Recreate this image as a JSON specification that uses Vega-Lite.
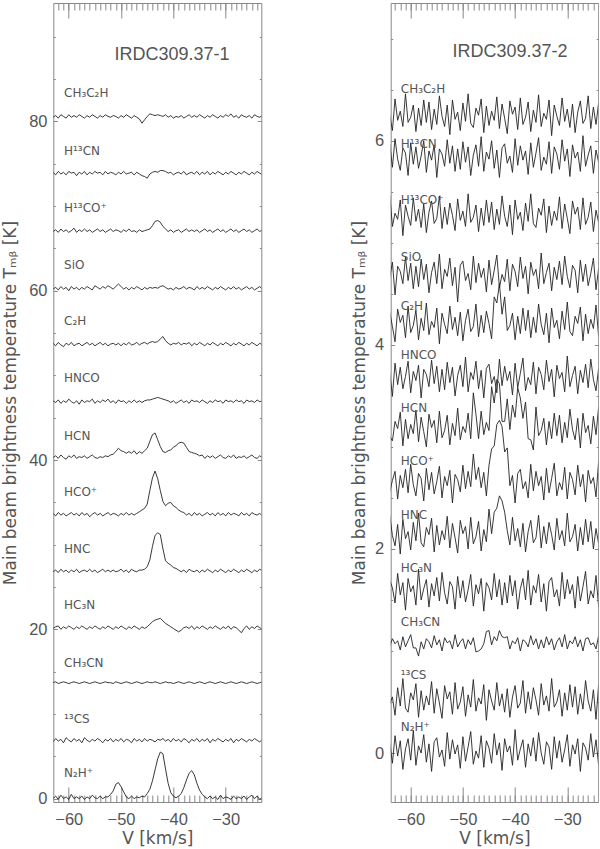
{
"$schema": "https://vega.github.io/schema/vega-lite/v6.json",
"padding": {"left": 1.3, "top": 2, "right": 0, "bottom": 0},
"background": "white",
"spacing": 86.4,
"config": {
  "view": {"stroke": "#888", "strokeWidth": 1},
  "axis": {"domain": false, "grid": false, "tickColor": "#888", "tickWidth": 1, "labelColor": "#555", "titleColor": "#555", "labelFont": "Liberation Sans", "labelFontSize": 16.5, "titleFont": "DejaVu Sans", "titleFontSize": 17, "titleFontWeight": "normal", "labelFlush": false, "labelOverlap": false}
},
"datasets": {
"L": [
{"v":-63,"N2Hp":0.0,"CS13":6.7,"CH3CN":13.7,"HC3N":20.1,"HNC":26.8,"HCOp":33.7,"HCN":40.3,"HNCO":47.0,"C2H":53.8,"SiO":60.2,"H13COp":67.0,"H13CN":74.0,"CH3C2H":80.5},
{"v":-62.5,"N2Hp":0.3,"CS13":7.1,"CH3CN":13.8,"HC3N":20.3,"HNC":27.0,"HCOp":33.4,"HCN":40.5,"HNCO":46.8,"C2H":53.5,"SiO":60.4,"H13COp":67.2,"H13CN":73.7,"CH3C2H":80.7},
{"v":-62,"N2Hp":-0.1,"CS13":6.8,"CH3CN":13.6,"HC3N":20.4,"HNC":26.7,"HCOp":33.8,"HCN":40.2,"HNCO":47.1,"C2H":53.9,"SiO":60.1,"H13COp":66.9,"H13CN":74.1,"CH3C2H":80.4},
{"v":-61.5,"N2Hp":0.4,"CS13":7.0,"CH3CN":13.7,"HC3N":20.0,"HNC":27.1,"HCOp":33.5,"HCN":40.6,"HNCO":46.7,"C2H":53.6,"SiO":60.5,"H13COp":67.3,"H13CN":73.8,"CH3C2H":80.8},
{"v":-61,"N2Hp":0.0,"CS13":6.6,"CH3CN":13.8,"HC3N":20.3,"HNC":26.8,"HCOp":33.7,"HCN":40.3,"HNCO":47.0,"C2H":53.4,"SiO":60.2,"H13COp":67.0,"H13CN":74.0,"CH3C2H":80.6},
{"v":-60.5,"N2Hp":0.2,"CS13":7.2,"CH3CN":13.7,"HC3N":20.1,"HNC":27.0,"HCOp":33.4,"HCN":40.1,"HNCO":46.8,"C2H":53.8,"SiO":60.4,"H13COp":67.2,"H13CN":73.7,"CH3C2H":80.4},
{"v":-60,"N2Hp":-0.1,"CS13":6.9,"CH3CN":13.6,"HC3N":20.4,"HNC":26.7,"HCOp":33.6,"HCN":40.5,"HNCO":47.2,"C2H":53.6,"SiO":60.0,"H13COp":66.9,"H13CN":74.1,"CH3C2H":80.8},
{"v":-59.5,"N2Hp":0.5,"CS13":6.7,"CH3CN":13.7,"HC3N":20.2,"HNC":27.0,"HCOp":33.8,"HCN":40.3,"HNCO":46.9,"C2H":53.9,"SiO":60.5,"H13COp":67.1,"H13CN":73.9,"CH3C2H":80.5},
{"v":-59,"N2Hp":0.0,"CS13":7.1,"CH3CN":13.8,"HC3N":20.0,"HNC":26.8,"HCOp":33.5,"HCN":40.6,"HNCO":46.7,"C2H":53.5,"SiO":60.2,"H13COp":67.4,"H13CN":74.0,"CH3C2H":80.7},
{"v":-58.5,"N2Hp":0.2,"CS13":6.8,"CH3CN":13.7,"HC3N":20.3,"HNC":27.1,"HCOp":33.7,"HCN":40.2,"HNCO":47.0,"C2H":53.7,"SiO":60.4,"H13COp":66.9,"H13CN":73.6,"CH3C2H":80.5},
{"v":-58,"N2Hp":0.0,"CS13":7.0,"CH3CN":13.6,"HC3N":20.1,"HNC":26.7,"HCOp":33.4,"HCN":40.4,"HNCO":46.6,"C2H":53.8,"SiO":60.1,"H13COp":67.2,"H13CN":74.0,"CH3C2H":80.8},
{"v":-57.5,"N2Hp":0.3,"CS13":6.6,"CH3CN":13.7,"HC3N":20.4,"HNC":26.9,"HCOp":33.8,"HCN":40.3,"HNCO":47.1,"C2H":53.5,"SiO":60.4,"H13COp":67.0,"H13CN":73.8,"CH3C2H":80.6},
{"v":-57,"N2Hp":-0.1,"CS13":7.2,"CH3CN":13.8,"HC3N":20.2,"HNC":27.0,"HCOp":33.5,"HCN":40.5,"HNCO":46.8,"C2H":53.7,"SiO":60.2,"H13COp":67.3,"H13CN":74.1,"CH3C2H":80.4},
{"v":-56.5,"N2Hp":0.2,"CS13":6.9,"CH3CN":13.7,"HC3N":20.0,"HNC":26.8,"HCOp":33.7,"HCN":40.2,"HNCO":47.0,"C2H":53.9,"SiO":60.5,"H13COp":67.0,"H13CN":73.7,"CH3C2H":80.7},
{"v":-56,"N2Hp":0.0,"CS13":6.7,"CH3CN":13.6,"HC3N":20.3,"HNC":27.1,"HCOp":33.3,"HCN":40.4,"HNCO":46.9,"C2H":53.6,"SiO":60.3,"H13COp":67.2,"H13CN":74.0,"CH3C2H":80.5},
{"v":-55.5,"N2Hp":0.4,"CS13":7.0,"CH3CN":13.7,"HC3N":20.1,"HNC":26.8,"HCOp":33.6,"HCN":40.6,"HNCO":47.2,"C2H":53.8,"SiO":60.1,"H13COp":66.9,"H13CN":73.8,"CH3C2H":80.8},
{"v":-55,"N2Hp":0.1,"CS13":6.8,"CH3CN":13.8,"HC3N":20.4,"HNC":27.0,"HCOp":33.8,"HCN":40.3,"HNCO":46.7,"C2H":53.5,"SiO":60.6,"H13COp":67.1,"H13CN":74.1,"CH3C2H":80.6},
{"v":-54.5,"N2Hp":0.0,"CS13":7.1,"CH3CN":13.7,"HC3N":20.2,"HNC":26.7,"HCOp":33.5,"HCN":40.2,"HNCO":47.0,"C2H":53.7,"SiO":60.4,"H13COp":67.3,"H13CN":73.9,"CH3C2H":80.4},
{"v":-54,"N2Hp":0.3,"CS13":6.9,"CH3CN":13.6,"HC3N":20.0,"HNC":26.9,"HCOp":33.7,"HCN":40.4,"HNCO":46.8,"C2H":53.9,"SiO":60.2,"H13COp":67.0,"H13CN":74.0,"CH3C2H":80.7},
{"v":-53.5,"N2Hp":0.0,"CS13":6.6,"CH3CN":13.7,"HC3N":20.3,"HNC":27.1,"HCOp":33.4,"HCN":40.3,"HNCO":47.1,"C2H":53.6,"SiO":60.5,"H13COp":67.2,"H13CN":73.7,"CH3C2H":80.5},
{"v":-53,"N2Hp":0.2,"CS13":7.0,"CH3CN":13.8,"HC3N":20.1,"HNC":26.8,"HCOp":33.6,"HCN":40.5,"HNCO":46.9,"C2H":53.8,"SiO":60.3,"H13COp":66.9,"H13CN":74.1,"CH3C2H":80.8},
{"v":-52.5,"N2Hp":0.2,"CS13":6.8,"CH3CN":13.7,"HC3N":20.4,"HNC":27.0,"HCOp":33.8,"HCN":40.4,"HNCO":47.2,"C2H":53.5,"SiO":60.6,"H13COp":67.1,"H13CN":73.8,"CH3C2H":80.6},
{"v":-52,"N2Hp":0.5,"CS13":7.1,"CH3CN":13.7,"HC3N":20.2,"HNC":26.8,"HCOp":33.5,"HCN":40.6,"HNCO":46.8,"C2H":53.7,"SiO":60.4,"H13COp":67.3,"H13CN":74.0,"CH3C2H":80.5},
{"v":-51.5,"N2Hp":0.9,"CS13":6.7,"CH3CN":13.6,"HC3N":20.0,"HNC":27.0,"HCOp":33.7,"HCN":40.7,"HNCO":47.0,"C2H":53.8,"SiO":60.2,"H13COp":67.0,"H13CN":73.9,"CH3C2H":80.7},
{"v":-51,"N2Hp":1.7,"CS13":7.0,"CH3CN":13.8,"HC3N":20.3,"HNC":26.8,"HCOp":33.6,"HCN":41.0,"HNCO":46.7,"C2H":53.6,"SiO":60.5,"H13COp":67.2,"H13CN":73.7,"CH3C2H":80.6},
{"v":-50.5,"N2Hp":1.9,"CS13":6.8,"CH3CN":13.7,"HC3N":20.1,"HNC":26.9,"HCOp":33.4,"HCN":41.4,"HNCO":47.1,"C2H":53.8,"SiO":60.8,"H13COp":67.1,"H13CN":74.0,"CH3C2H":80.4},
{"v":-50,"N2Hp":1.4,"CS13":7.1,"CH3CN":13.6,"HC3N":20.4,"HNC":27.1,"HCOp":33.7,"HCN":41.1,"HNCO":46.9,"C2H":53.5,"SiO":60.5,"H13COp":66.9,"H13CN":73.8,"CH3C2H":80.7},
{"v":-49.5,"N2Hp":0.8,"CS13":6.7,"CH3CN":13.7,"HC3N":20.2,"HNC":26.8,"HCOp":33.5,"HCN":41.0,"HNCO":47.0,"C2H":53.8,"SiO":60.2,"H13COp":67.2,"H13CN":74.1,"CH3C2H":80.5},
{"v":-49,"N2Hp":0.2,"CS13":7.0,"CH3CN":13.8,"HC3N":20.0,"HNC":27.0,"HCOp":33.8,"HCN":40.8,"HNCO":46.7,"C2H":53.6,"SiO":60.4,"H13COp":67.0,"H13CN":73.8,"CH3C2H":80.8},
{"v":-48.5,"N2Hp":0.0,"CS13":6.9,"CH3CN":13.7,"HC3N":20.3,"HNC":26.7,"HCOp":33.5,"HCN":41.0,"HNCO":47.0,"C2H":53.9,"SiO":60.1,"H13COp":67.3,"H13CN":73.9,"CH3C2H":80.6},
{"v":-48,"N2Hp":0.3,"CS13":6.6,"CH3CN":13.6,"HC3N":20.1,"HNC":27.1,"HCOp":33.7,"HCN":40.8,"HNCO":46.8,"C2H":53.6,"SiO":60.4,"H13COp":67.0,"H13CN":74.0,"CH3C2H":80.4},
{"v":-47.5,"N2Hp":0.0,"CS13":7.1,"CH3CN":13.7,"HC3N":20.4,"HNC":26.9,"HCOp":33.5,"HCN":41.1,"HNCO":47.1,"C2H":53.7,"SiO":60.2,"H13COp":67.1,"H13CN":73.7,"CH3C2H":80.7},
{"v":-47,"N2Hp":0.2,"CS13":6.8,"CH3CN":13.8,"HC3N":20.2,"HNC":26.8,"HCOp":33.7,"HCN":40.7,"HNCO":46.8,"C2H":53.9,"SiO":60.5,"H13COp":66.9,"H13CN":74.0,"CH3C2H":80.5},
{"v":-46.5,"N2Hp":0.1,"CS13":7.0,"CH3CN":13.7,"HC3N":20.0,"HNC":27.0,"HCOp":33.9,"HCN":41.0,"HNCO":47.0,"C2H":53.6,"SiO":60.3,"H13COp":67.2,"H13CN":73.8,"CH3C2H":80.3},
{"v":-46,"N2Hp":0.3,"CS13":6.7,"CH3CN":13.6,"HC3N":20.3,"HNC":27.0,"HCOp":34.1,"HCN":40.8,"HNCO":46.8,"C2H":53.8,"SiO":60.1,"H13COp":67.0,"H13CN":73.6,"CH3C2H":79.8},
{"v":-45.5,"N2Hp":0.2,"CS13":7.1,"CH3CN":13.7,"HC3N":20.1,"HNC":27.1,"HCOp":34.3,"HCN":41.1,"HNCO":47.0,"C2H":53.9,"SiO":60.4,"H13COp":67.1,"H13CN":73.5,"CH3C2H":80.2},
{"v":-45,"N2Hp":0.6,"CS13":6.8,"CH3CN":13.8,"HC3N":20.3,"HNC":27.4,"HCOp":34.8,"HCN":41.4,"HNCO":47.1,"C2H":53.7,"SiO":60.2,"H13COp":67.2,"H13CN":73.3,"CH3C2H":80.6},
{"v":-44.5,"N2Hp":1.1,"CS13":7.0,"CH3CN":13.7,"HC3N":20.6,"HNC":28.2,"HCOp":36.4,"HCN":42.2,"HNCO":47.1,"C2H":53.9,"SiO":60.4,"H13COp":67.3,"H13CN":73.8,"CH3C2H":80.9},
{"v":-44,"N2Hp":2.1,"CS13":6.9,"CH3CN":13.7,"HC3N":20.9,"HNC":29.8,"HCOp":37.9,"HCN":43.0,"HNCO":47.2,"C2H":54.0,"SiO":60.3,"H13COp":67.7,"H13CN":74.0,"CH3C2H":80.8},
{"v":-43.5,"N2Hp":3.4,"CS13":6.7,"CH3CN":13.8,"HC3N":21.1,"HNC":31.1,"HCOp":38.7,"HCN":43.2,"HNCO":47.3,"C2H":53.9,"SiO":60.4,"H13COp":68.2,"H13CN":74.1,"CH3C2H":80.7},
{"v":-43,"N2Hp":4.7,"CS13":7.0,"CH3CN":13.7,"HC3N":21.2,"HNC":31.4,"HCOp":37.8,"HCN":42.4,"HNCO":47.4,"C2H":54.0,"SiO":60.3,"H13COp":68.3,"H13CN":74.0,"CH3C2H":80.8},
{"v":-42.5,"N2Hp":5.5,"CS13":6.9,"CH3CN":13.6,"HC3N":21.3,"HNC":31.2,"HCOp":36.4,"HCN":41.6,"HNCO":47.3,"C2H":54.3,"SiO":60.5,"H13COp":68.1,"H13CN":74.2,"CH3C2H":80.7},
{"v":-42,"N2Hp":5.3,"CS13":7.1,"CH3CN":13.7,"HC3N":21.0,"HNC":29.5,"HCOp":35.1,"HCN":41.0,"HNCO":47.2,"C2H":54.6,"SiO":60.6,"H13COp":67.6,"H13CN":74.2,"CH3C2H":80.6},
{"v":-41.5,"N2Hp":3.5,"CS13":6.8,"CH3CN":13.8,"HC3N":20.7,"HNC":28.1,"HCOp":34.6,"HCN":40.9,"HNCO":47.1,"C2H":54.1,"SiO":60.4,"H13COp":67.3,"H13CN":74.1,"CH3C2H":80.8},
{"v":-41,"N2Hp":1.8,"CS13":7.0,"CH3CN":13.7,"HC3N":20.5,"HNC":27.8,"HCOp":34.9,"HCN":41.1,"HNCO":47.0,"C2H":53.8,"SiO":60.2,"H13COp":67.0,"H13CN":73.9,"CH3C2H":80.5},
{"v":-40.5,"N2Hp":0.7,"CS13":6.7,"CH3CN":13.7,"HC3N":20.3,"HNC":27.6,"HCOp":35.0,"HCN":41.2,"HNCO":46.8,"C2H":53.6,"SiO":60.3,"H13COp":67.2,"H13CN":74.0,"CH3C2H":80.7},
{"v":-40,"N2Hp":0.3,"CS13":7.1,"CH3CN":13.6,"HC3N":20.1,"HNC":27.3,"HCOp":34.6,"HCN":41.5,"HNCO":47.0,"C2H":53.8,"SiO":60.1,"H13COp":66.9,"H13CN":73.7,"CH3C2H":80.4},
{"v":-39.5,"N2Hp":0.1,"CS13":6.8,"CH3CN":13.7,"HC3N":19.9,"HNC":27.2,"HCOp":34.4,"HCN":41.7,"HNCO":46.7,"C2H":53.7,"SiO":60.4,"H13COp":67.1,"H13CN":73.9,"CH3C2H":80.6},
{"v":-39,"N2Hp":0.3,"CS13":7.0,"CH3CN":13.8,"HC3N":19.7,"HNC":27.0,"HCOp":34.1,"HCN":42.0,"HNCO":46.9,"C2H":53.9,"SiO":60.2,"H13COp":67.2,"H13CN":74.0,"CH3C2H":80.5},
{"v":-38.5,"N2Hp":0.6,"CS13":6.7,"CH3CN":13.7,"HC3N":19.9,"HNC":26.8,"HCOp":33.9,"HCN":42.1,"HNCO":47.1,"C2H":53.6,"SiO":60.3,"H13COp":66.9,"H13CN":73.8,"CH3C2H":80.7},
{"v":-38,"N2Hp":1.3,"CS13":7.1,"CH3CN":13.6,"HC3N":20.2,"HNC":27.0,"HCOp":33.8,"HCN":42.0,"HNCO":46.8,"C2H":53.8,"SiO":60.5,"H13COp":67.1,"H13CN":74.1,"CH3C2H":80.4},
{"v":-37.5,"N2Hp":2.2,"CS13":6.9,"CH3CN":13.7,"HC3N":20.3,"HNC":26.7,"HCOp":33.5,"HCN":41.5,"HNCO":47.0,"C2H":53.7,"SiO":60.2,"H13COp":67.3,"H13CN":73.7,"CH3C2H":80.6},
{"v":-37,"N2Hp":3.0,"CS13":6.6,"CH3CN":13.8,"HC3N":20.1,"HNC":27.1,"HCOp":33.7,"HCN":41.0,"HNCO":46.7,"C2H":53.9,"SiO":60.4,"H13COp":67.0,"H13CN":73.9,"CH3C2H":80.8},
{"v":-36.5,"N2Hp":3.3,"CS13":7.0,"CH3CN":13.7,"HC3N":20.4,"HNC":26.9,"HCOp":33.4,"HCN":40.9,"HNCO":47.1,"C2H":53.5,"SiO":60.3,"H13COp":67.2,"H13CN":74.0,"CH3C2H":80.5},
{"v":-36,"N2Hp":2.8,"CS13":6.8,"CH3CN":13.6,"HC3N":20.0,"HNC":26.8,"HCOp":33.8,"HCN":40.8,"HNCO":46.9,"C2H":53.8,"SiO":60.1,"H13COp":67.0,"H13CN":73.8,"CH3C2H":80.7},
{"v":-35.5,"N2Hp":1.8,"CS13":7.1,"CH3CN":13.7,"HC3N":20.3,"HNC":27.0,"HCOp":33.5,"HCN":40.7,"HNCO":47.0,"C2H":53.6,"SiO":60.5,"H13COp":67.2,"H13CN":74.1,"CH3C2H":80.5},
{"v":-35,"N2Hp":1.0,"CS13":6.7,"CH3CN":13.8,"HC3N":20.1,"HNC":26.7,"HCOp":33.7,"HCN":40.5,"HNCO":46.8,"C2H":53.9,"SiO":60.2,"H13COp":66.9,"H13CN":73.7,"CH3C2H":80.8},
{"v":-34.5,"N2Hp":0.5,"CS13":7.0,"CH3CN":13.7,"HC3N":20.4,"HNC":27.0,"HCOp":33.4,"HCN":40.6,"HNCO":47.1,"C2H":53.7,"SiO":60.4,"H13COp":67.1,"H13CN":74.0,"CH3C2H":80.6},
{"v":-34,"N2Hp":0.2,"CS13":6.8,"CH3CN":13.6,"HC3N":20.2,"HNC":26.8,"HCOp":33.6,"HCN":40.2,"HNCO":46.9,"C2H":53.5,"SiO":60.2,"H13COp":67.3,"H13CN":73.8,"CH3C2H":80.4},
{"v":-33.5,"N2Hp":0.0,"CS13":7.1,"CH3CN":13.7,"HC3N":20.0,"HNC":27.1,"HCOp":33.8,"HCN":40.5,"HNCO":46.7,"C2H":53.8,"SiO":60.5,"H13COp":67.0,"H13CN":74.1,"CH3C2H":80.7},
{"v":-33,"N2Hp":0.3,"CS13":6.6,"CH3CN":13.8,"HC3N":20.3,"HNC":26.9,"HCOp":33.5,"HCN":40.3,"HNCO":47.0,"C2H":53.6,"SiO":60.3,"H13COp":67.2,"H13CN":73.7,"CH3C2H":80.5},
{"v":-32.5,"N2Hp":0.0,"CS13":7.0,"CH3CN":13.7,"HC3N":20.1,"HNC":26.7,"HCOp":33.7,"HCN":40.5,"HNCO":46.8,"C2H":53.9,"SiO":60.1,"H13COp":66.9,"H13CN":74.0,"CH3C2H":80.8},
{"v":-32,"N2Hp":0.2,"CS13":6.8,"CH3CN":13.6,"HC3N":20.4,"HNC":27.0,"HCOp":33.4,"HCN":40.2,"HNCO":47.1,"C2H":53.7,"SiO":60.4,"H13COp":67.1,"H13CN":73.8,"CH3C2H":80.6},
{"v":-31.5,"N2Hp":-0.1,"CS13":7.1,"CH3CN":13.7,"HC3N":20.2,"HNC":26.8,"HCOp":33.8,"HCN":40.4,"HNCO":46.9,"C2H":53.5,"SiO":60.2,"H13COp":67.3,"H13CN":74.1,"CH3C2H":80.4},
{"v":-31,"N2Hp":0.4,"CS13":6.9,"CH3CN":13.8,"HC3N":20.0,"HNC":27.1,"HCOp":33.5,"HCN":40.6,"HNCO":47.0,"C2H":53.8,"SiO":60.5,"H13COp":67.0,"H13CN":73.9,"CH3C2H":80.7},
{"v":-30.5,"N2Hp":0.0,"CS13":6.7,"CH3CN":13.7,"HC3N":20.3,"HNC":26.9,"HCOp":33.7,"HCN":40.3,"HNCO":46.7,"C2H":53.6,"SiO":60.3,"H13COp":67.2,"H13CN":73.7,"CH3C2H":80.5},
{"v":-30,"N2Hp":0.2,"CS13":7.0,"CH3CN":13.6,"HC3N":20.1,"HNC":26.7,"HCOp":33.4,"HCN":40.2,"HNCO":47.1,"C2H":53.9,"SiO":60.1,"H13COp":66.9,"H13CN":74.0,"CH3C2H":80.8},
{"v":-29.5,"N2Hp":0.1,"CS13":6.8,"CH3CN":13.7,"HC3N":20.4,"HNC":27.0,"HCOp":33.8,"HCN":40.5,"HNCO":46.9,"C2H":53.7,"SiO":60.4,"H13COp":67.1,"H13CN":73.8,"CH3C2H":80.6},
{"v":-29,"N2Hp":-0.1,"CS13":7.1,"CH3CN":13.8,"HC3N":20.0,"HNC":26.8,"HCOp":33.5,"HCN":40.3,"HNCO":47.0,"C2H":53.5,"SiO":60.2,"H13COp":67.3,"H13CN":74.1,"CH3C2H":80.9},
{"v":-28.5,"N2Hp":0.3,"CS13":6.6,"CH3CN":13.7,"HC3N":20.3,"HNC":27.1,"HCOp":33.7,"HCN":40.6,"HNCO":46.8,"C2H":53.8,"SiO":60.5,"H13COp":67.0,"H13CN":73.9,"CH3C2H":80.5},
{"v":-28,"N2Hp":0.0,"CS13":7.0,"CH3CN":13.6,"HC3N":20.2,"HNC":26.9,"HCOp":33.6,"HCN":40.2,"HNCO":47.1,"C2H":53.6,"SiO":60.2,"H13COp":67.2,"H13CN":73.7,"CH3C2H":80.7},
{"v":-27.5,"N2Hp":0.2,"CS13":6.8,"CH3CN":13.7,"HC3N":19.9,"HNC":26.7,"HCOp":33.4,"HCN":40.4,"HNCO":46.9,"C2H":53.9,"SiO":60.4,"H13COp":66.9,"H13CN":74.0,"CH3C2H":80.4},
{"v":-27,"N2Hp":0.0,"CS13":7.1,"CH3CN":13.8,"HC3N":19.6,"HNC":27.0,"HCOp":33.8,"HCN":40.3,"HNCO":47.0,"C2H":53.7,"SiO":60.1,"H13COp":67.1,"H13CN":73.8,"CH3C2H":80.8},
{"v":-26.5,"N2Hp":0.3,"CS13":6.9,"CH3CN":13.7,"HC3N":20.1,"HNC":26.8,"HCOp":33.5,"HCN":40.5,"HNCO":46.7,"C2H":53.5,"SiO":60.3,"H13COp":67.3,"H13CN":74.1,"CH3C2H":80.6},
{"v":-26,"N2Hp":-0.1,"CS13":6.7,"CH3CN":13.6,"HC3N":20.4,"HNC":27.1,"HCOp":33.7,"HCN":40.2,"HNCO":47.1,"C2H":53.8,"SiO":60.5,"H13COp":67.0,"H13CN":73.9,"CH3C2H":80.5},
{"v":-25.5,"N2Hp":0.2,"CS13":7.0,"CH3CN":13.7,"HC3N":20.0,"HNC":26.9,"HCOp":33.4,"HCN":40.4,"HNCO":46.9,"C2H":53.6,"SiO":60.2,"H13COp":67.2,"H13CN":73.7,"CH3C2H":80.7},
{"v":-25,"N2Hp":0.4,"CS13":6.8,"CH3CN":13.8,"HC3N":20.3,"HNC":26.7,"HCOp":33.8,"HCN":40.6,"HNCO":47.0,"C2H":53.9,"SiO":60.4,"H13COp":66.9,"H13CN":74.0,"CH3C2H":80.4},
{"v":-24.5,"N2Hp":0.0,"CS13":7.1,"CH3CN":13.7,"HC3N":20.1,"HNC":27.0,"HCOp":33.6,"HCN":40.3,"HNCO":46.8,"C2H":53.7,"SiO":60.1,"H13COp":67.1,"H13CN":73.8,"CH3C2H":80.8},
{"v":-24,"N2Hp":0.3,"CS13":6.9,"CH3CN":13.6,"HC3N":20.4,"HNC":26.8,"HCOp":33.5,"HCN":40.2,"HNCO":47.1,"C2H":53.5,"SiO":60.3,"H13COp":67.3,"H13CN":74.1,"CH3C2H":80.6},
{"v":-23.5,"N2Hp":-0.1,"CS13":6.7,"CH3CN":13.7,"HC3N":20.2,"HNC":27.1,"HCOp":33.7,"HCN":40.5,"HNCO":46.9,"C2H":53.8,"SiO":60.5,"H13COp":67.0,"H13CN":73.9,"CH3C2H":80.5},
{"v":-23,"N2Hp":0.2,"CS13":7.0,"CH3CN":13.8,"HC3N":20.0,"HNC":26.9,"HCOp":33.4,"HCN":40.3,"HNCO":47.0,"C2H":53.6,"SiO":60.2,"H13COp":67.2,"H13CN":73.7,"CH3C2H":80.7}
],
"R": [
{"v":-64,"N2Hp":0.10,"CS13":0.48,"CH3CN":1.05,"HC3N":1.69,"HNC":2.33,"HCOp":2.56,"HCN":3.10,"HNCO":3.72,"C2H":4.32,"SiO":4.66,"H13COp":5.47,"H13CN":5.97,"CH3C2H":6.25},
{"v":-63.5,"N2Hp":-0.10,"CS13":0.55,"CH3CN":1.12,"HC3N":1.62,"HNC":2.13,"HCOp":2.67,"HCN":3.06,"HNCO":3.50,"C2H":4.18,"SiO":4.81,"H13COp":5.16,"H13CN":5.74,"CH3C2H":6.10},
{"v":-63,"N2Hp":0.17,"CS13":0.37,"CH3CN":1.07,"HC3N":1.47,"HNC":2.03,"HCOp":2.76,"HCN":3.25,"HNCO":3.82,"C2H":4.03,"SiO":4.49,"H13COp":5.29,"H13CN":6.02,"CH3C2H":6.41},
{"v":-62.5,"N2Hp":-0.03,"CS13":0.64,"CH3CN":1.10,"HC3N":1.76,"HNC":2.24,"HCOp":2.49,"HCN":3.18,"HNCO":3.61,"C2H":4.35,"SiO":4.77,"H13COp":5.23,"H13CN":5.82,"CH3C2H":6.20},
{"v":-62,"N2Hp":0.12,"CS13":0.46,"CH3CN":1.01,"HC3N":1.55,"HNC":1.95,"HCOp":2.72,"HCN":3.34,"HNCO":3.78,"C2H":4.22,"SiO":4.72,"H13COp":5.42,"H13CN":5.71,"CH3C2H":6.29},
{"v":-61.5,"N2Hp":-0.16,"CS13":0.73,"CH3CN":1.14,"HC3N":1.67,"HNC":2.29,"HCOp":2.60,"HCN":3.01,"HNCO":3.57,"C2H":4.29,"SiO":4.60,"H13COp":5.07,"H13CN":5.93,"CH3C2H":6.14},
{"v":-61,"N2Hp":0.04,"CS13":0.44,"CH3CN":1.04,"HC3N":1.40,"HNC":2.10,"HCOp":2.78,"HCN":3.27,"HNCO":3.69,"C2H":4.07,"SiO":4.86,"H13COp":5.37,"H13CN":5.88,"CH3C2H":6.46},
{"v":-60.5,"N2Hp":0.14,"CS13":0.40,"CH3CN":1.10,"HC3N":1.71,"HNC":2.17,"HCOp":2.55,"HCN":3.08,"HNCO":3.84,"C2H":4.38,"SiO":4.63,"H13COp":5.26,"H13CN":5.66,"CH3C2H":6.18},
{"v":-60,"N2Hp":-0.07,"CS13":0.59,"CH3CN":1.16,"HC3N":1.58,"HNC":1.99,"HCOp":2.83,"HCN":3.22,"HNCO":3.53,"C2H":4.12,"SiO":4.80,"H13COp":5.17,"H13CN":5.98,"CH3C2H":6.23},
{"v":-59.5,"N2Hp":0.22,"CS13":0.52,"CH3CN":1.03,"HC3N":1.64,"HNC":2.26,"HCOp":2.63,"HCN":3.13,"HNCO":3.74,"C2H":4.19,"SiO":4.55,"H13COp":5.44,"H13CN":5.77,"CH3C2H":6.35},
{"v":-59,"N2Hp":-0.12,"CS13":0.68,"CH3CN":1.03,"HC3N":1.45,"HNC":2.08,"HCOp":2.52,"HCN":3.36,"HNCO":3.65,"C2H":4.34,"SiO":4.77,"H13COp":5.21,"H13CN":5.94,"CH3C2H":6.09},
{"v":-58.5,"N2Hp":0.07,"CS13":0.35,"CH3CN":0.95,"HC3N":1.80,"HNC":2.35,"HCOp":2.74,"HCN":3.05,"HNCO":3.80,"C2H":4.05,"SiO":4.57,"H13COp":5.33,"H13CN":5.73,"CH3C2H":6.32},
{"v":-58,"N2Hp":0.00,"CS13":0.61,"CH3CN":1.09,"HC3N":1.50,"HNC":2.06,"HCOp":2.69,"HCN":3.29,"HNCO":3.48,"C2H":4.26,"SiO":4.84,"H13COp":5.15,"H13CN":5.85,"CH3C2H":6.15},
{"v":-57.5,"N2Hp":0.18,"CS13":0.42,"CH3CN":1.02,"HC3N":1.61,"HNC":2.02,"HCOp":2.47,"HCN":3.15,"HNCO":3.76,"C2H":4.14,"SiO":4.64,"H13COp":5.38,"H13CN":6.00,"CH3C2H":6.40},
{"v":-57,"N2Hp":-0.09,"CS13":0.56,"CH3CN":1.12,"HC3N":1.70,"HNC":2.21,"HCOp":2.79,"HCN":3.00,"HNCO":3.71,"C2H":4.41,"SiO":4.79,"H13COp":5.10,"H13CN":5.69,"CH3C2H":6.18},
{"v":-56.5,"N2Hp":0.09,"CS13":0.47,"CH3CN":1.09,"HC3N":1.43,"HNC":2.14,"HCOp":2.58,"HCN":3.32,"HNCO":3.59,"C2H":4.10,"SiO":4.51,"H13COp":5.30,"H13CN":5.90,"CH3C2H":6.38},
{"v":-56,"N2Hp":-0.18,"CS13":0.70,"CH3CN":1.03,"HC3N":1.66,"HNC":2.30,"HCOp":2.75,"HCN":3.19,"HNCO":3.85,"C2H":4.23,"SiO":4.71,"H13COp":5.41,"H13CN":5.81,"CH3C2H":6.11},
{"v":-55.5,"N2Hp":0.11,"CS13":0.39,"CH3CN":1.15,"HC3N":1.54,"HNC":1.97,"HCOp":2.54,"HCN":3.26,"HNCO":3.62,"C2H":4.17,"SiO":4.81,"H13COp":5.19,"H13CN":5.96,"CH3C2H":6.31},
{"v":-55,"N2Hp":0.15,"CS13":0.63,"CH3CN":1.06,"HC3N":1.72,"HNC":2.23,"HCOp":2.66,"HCN":3.04,"HNCO":3.79,"C2H":4.36,"SiO":4.60,"H13COp":5.24,"H13CN":5.64,"CH3C2H":6.16},
{"v":-54.5,"N2Hp":-0.04,"CS13":0.49,"CH3CN":1.11,"HC3N":1.49,"HNC":2.04,"HCOp":2.81,"HCN":3.35,"HNCO":3.54,"C2H":4.01,"SiO":4.89,"H13COp":5.46,"H13CN":5.92,"CH3C2H":6.44},
{"v":-54,"N2Hp":0.03,"CS13":0.34,"CH3CN":1.00,"HC3N":1.77,"HNC":2.18,"HCOp":2.50,"HCN":3.09,"HNCO":3.76,"C2H":4.31,"SiO":4.55,"H13COp":5.14,"H13CN":5.87,"CH3C2H":6.24},
{"v":-53.5,"N2Hp":-0.13,"CS13":0.66,"CH3CN":1.13,"HC3N":1.57,"HNC":2.09,"HCOp":2.71,"HCN":3.16,"HNCO":3.56,"C2H":4.20,"SiO":4.74,"H13COp":5.35,"H13CN":5.75,"CH3C2H":6.14},
{"v":-53,"N2Hp":0.20,"CS13":0.53,"CH3CN":1.08,"HC3N":1.46,"HNC":2.32,"HCOp":2.62,"HCN":3.31,"HNCO":3.83,"C2H":4.11,"SiO":4.67,"H13COp":5.18,"H13CN":6.01,"CH3C2H":6.35},
{"v":-52.5,"N2Hp":-0.06,"CS13":0.60,"CH3CN":1.10,"HC3N":1.68,"HNC":2.01,"HCOp":2.77,"HCN":3.02,"HNCO":3.63,"C2H":4.38,"SiO":4.85,"H13COp":5.39,"H13CN":5.78,"CH3C2H":6.06},
{"v":-52,"N2Hp":0.13,"CS13":0.38,"CH3CN":1.02,"HC3N":1.63,"HNC":2.25,"HCOp":2.45,"HCN":3.23,"HNCO":3.78,"C2H":4.15,"SiO":4.58,"H13COp":5.27,"H13CN":5.95,"CH3C2H":6.40},
{"v":-51.5,"N2Hp":-0.01,"CS13":0.69,"CH3CN":1.16,"HC3N":1.41,"HNC":2.11,"HCOp":2.73,"HCN":3.11,"HNCO":3.50,"C2H":4.27,"SiO":4.76,"H13COp":5.12,"H13CN":5.70,"CH3C2H":6.21},
{"v":-51,"N2Hp":0.08,"CS13":0.43,"CH3CN":1.04,"HC3N":1.73,"HNC":1.96,"HCOp":2.68,"HCN":3.38,"HNCO":3.70,"C2H":4.09,"SiO":4.42,"H13COp":5.43,"H13CN":5.92,"CH3C2H":6.28},
{"v":-50.5,"N2Hp":-0.15,"CS13":0.50,"CH3CN":1.09,"HC3N":1.52,"HNC":2.28,"HCOp":2.56,"HCN":3.07,"HNCO":3.80,"C2H":4.32,"SiO":4.78,"H13COp":5.22,"H13CN":5.72,"CH3C2H":6.10},
{"v":-50,"N2Hp":0.16,"CS13":0.65,"CH3CN":1.12,"HC3N":1.69,"HNC":2.15,"HCOp":2.82,"HCN":3.20,"HNCO":3.59,"C2H":4.04,"SiO":4.82,"H13COp":5.31,"H13CN":5.99,"CH3C2H":6.37},
{"v":-49.5,"N2Hp":-0.08,"CS13":0.36,"CH3CN":1.02,"HC3N":1.48,"HNC":2.22,"HCOp":2.59,"HCN":3.14,"HNCO":3.88,"C2H":4.24,"SiO":4.63,"H13COp":5.16,"H13CN":5.79,"CH3C2H":6.19},
{"v":-49,"N2Hp":0.06,"CS13":0.57,"CH3CN":1.11,"HC3N":1.60,"HNC":2.00,"HCOp":2.76,"HCN":3.33,"HNCO":3.54,"C2H":4.35,"SiO":4.70,"H13COp":5.48,"H13CN":5.94,"CH3C2H":6.46},
{"v":-48.5,"N2Hp":0.21,"CS13":0.45,"CH3CN":1.06,"HC3N":1.75,"HNC":2.31,"HCOp":2.61,"HCN":3.08,"HNCO":3.73,"C2H":4.13,"SiO":4.54,"H13COp":5.20,"H13CN":5.66,"CH3C2H":6.17},
{"v":-48,"N2Hp":-0.11,"CS13":0.72,"CH3CN":1.13,"HC3N":1.44,"HNC":2.05,"HCOp":2.93,"HCN":3.53,"HNCO":3.66,"C2H":4.18,"SiO":4.87,"H13COp":5.25,"H13CN":5.86,"CH3C2H":6.13},
{"v":-47.5,"N2Hp":0.02,"CS13":0.41,"CH3CN":0.99,"HC3N":1.65,"HNC":2.12,"HCOp":2.68,"HCN":3.32,"HNCO":3.84,"C2H":4.40,"SiO":4.61,"H13COp":5.37,"H13CN":5.96,"CH3C2H":6.32},
{"v":-47,"N2Hp":-0.05,"CS13":0.54,"CH3CN":1.00,"HC3N":1.56,"HNC":2.27,"HCOp":2.80,"HCN":3.08,"HNCO":3.57,"C2H":4.08,"SiO":4.80,"H13COp":5.11,"H13CN":5.75,"CH3C2H":6.25},
{"v":-46.5,"N2Hp":0.17,"CS13":0.48,"CH3CN":1.02,"HC3N":1.71,"HNC":1.98,"HCOp":2.60,"HCN":3.35,"HNCO":3.75,"C2H":4.29,"SiO":4.66,"H13COp":5.34,"H13CN":6.04,"CH3C2H":6.41},
{"v":-46,"N2Hp":-0.14,"CS13":0.67,"CH3CN":1.07,"HC3N":1.39,"HNC":2.19,"HCOp":2.75,"HCN":3.12,"HNCO":3.48,"C2H":4.12,"SiO":4.75,"H13COp":5.17,"H13CN":5.70,"CH3C2H":6.08},
{"v":-45.5,"N2Hp":0.12,"CS13":0.32,"CH3CN":1.19,"HC3N":1.67,"HNC":2.07,"HCOp":2.52,"HCN":3.24,"HNCO":3.77,"C2H":4.33,"SiO":4.52,"H13COp":5.42,"H13CN":5.89,"CH3C2H":6.34},
{"v":-45,"N2Hp":0.05,"CS13":0.62,"CH3CN":1.20,"HC3N":1.62,"HNC":2.39,"HCOp":2.82,"HCN":3.16,"HNCO":3.81,"C2H":4.21,"SiO":4.83,"H13COp":5.20,"H13CN":5.82,"CH3C2H":6.15},
{"v":-44.5,"N2Hp":-0.10,"CS13":0.51,"CH3CN":1.06,"HC3N":1.50,"HNC":2.15,"HCOp":2.98,"HCN":3.59,"HNCO":3.62,"C2H":4.06,"SiO":4.59,"H13COp":5.40,"H13CN":6.00,"CH3C2H":6.29},
{"v":-44,"N2Hp":0.19,"CS13":0.42,"CH3CN":1.14,"HC3N":1.76,"HNC":2.36,"HCOp":3.01,"HCN":3.43,"HNCO":3.69,"C2H":4.47,"SiO":4.73,"H13COp":5.13,"H13CN":5.73,"CH3C2H":6.20},
{"v":-43.5,"N2Hp":-0.02,"CS13":0.69,"CH3CN":1.10,"HC3N":1.53,"HNC":2.40,"HCOp":3.22,"HCN":3.66,"HNCO":3.53,"C2H":4.41,"SiO":4.88,"H13COp":5.33,"H13CN":5.91,"CH3C2H":6.43},
{"v":-43,"N2Hp":0.10,"CS13":0.46,"CH3CN":1.20,"HC3N":1.70,"HNC":2.52,"HCOp":3.26,"HCN":3.62,"HNCO":3.86,"C2H":4.60,"SiO":4.56,"H13COp":5.18,"H13CN":5.64,"CH3C2H":6.12},
{"v":-42.5,"N2Hp":-0.17,"CS13":0.58,"CH3CN":1.14,"HC3N":1.45,"HNC":2.47,"HCOp":3.20,"HCN":3.25,"HNCO":3.60,"C2H":4.30,"SiO":4.69,"H13COp":5.46,"H13CN":5.93,"CH3C2H":6.36},
{"v":-42,"N2Hp":0.14,"CS13":0.40,"CH3CN":1.13,"HC3N":1.67,"HNC":2.36,"HCOp":2.95,"HCN":3.25,"HNCO":3.79,"C2H":4.47,"SiO":4.62,"H13COp":5.26,"H13CN":5.97,"CH3C2H":6.22},
{"v":-41.5,"N2Hp":0.01,"CS13":0.63,"CH3CN":1.14,"HC3N":1.47,"HNC":2.18,"HCOp":2.99,"HCN":3.47,"HNCO":3.65,"C2H":4.14,"SiO":4.84,"H13COp":5.16,"H13CN":5.78,"CH3C2H":6.07},
{"v":-41,"N2Hp":0.07,"CS13":0.35,"CH3CN":1.02,"HC3N":1.74,"HNC":2.04,"HCOp":2.62,"HCN":3.17,"HNCO":3.74,"C2H":4.19,"SiO":4.53,"H13COp":5.37,"H13CN":5.85,"CH3C2H":6.39},
{"v":-40.5,"N2Hp":-0.12,"CS13":0.55,"CH3CN":1.10,"HC3N":1.54,"HNC":2.31,"HCOp":2.72,"HCN":3.41,"HNCO":3.51,"C2H":4.31,"SiO":4.79,"H13COp":5.08,"H13CN":5.69,"CH3C2H":6.26},
{"v":-40,"N2Hp":0.23,"CS13":0.66,"CH3CN":1.07,"HC3N":1.69,"HNC":2.08,"HCOp":2.45,"HCN":3.29,"HNCO":3.82,"C2H":4.05,"SiO":4.72,"H13COp":5.42,"H13CN":6.02,"CH3C2H":6.33},
{"v":-39.5,"N2Hp":-0.07,"CS13":0.44,"CH3CN":1.13,"HC3N":1.41,"HNC":2.20,"HCOp":2.74,"HCN":3.58,"HNCO":3.58,"C2H":4.28,"SiO":4.57,"H13COp":5.23,"H13CN":5.76,"CH3C2H":6.11},
{"v":-39,"N2Hp":0.04,"CS13":0.49,"CH3CN":1.00,"HC3N":1.61,"HNC":2.02,"HCOp":2.78,"HCN":3.48,"HNCO":3.72,"C2H":4.11,"SiO":4.86,"H13COp":5.30,"H13CN":5.95,"CH3C2H":6.42},
{"v":-38.5,"N2Hp":0.13,"CS13":0.71,"CH3CN":1.11,"HC3N":1.71,"HNC":2.25,"HCOp":2.59,"HCN":3.28,"HNCO":3.87,"C2H":4.36,"SiO":4.65,"H13COp":5.12,"H13CN":5.81,"CH3C2H":6.16},
{"v":-38,"N2Hp":-0.14,"CS13":0.39,"CH3CN":1.09,"HC3N":1.50,"HNC":1.97,"HCOp":2.66,"HCN":3.44,"HNCO":3.55,"C2H":4.14,"SiO":4.77,"H13COp":5.39,"H13CN":5.90,"CH3C2H":6.23},
{"v":-37.5,"N2Hp":0.09,"CS13":0.60,"CH3CN":1.04,"HC3N":1.79,"HNC":2.17,"HCOp":2.50,"HCN":3.08,"HNCO":3.68,"C2H":4.34,"SiO":4.50,"H13COp":5.21,"H13CN":5.67,"CH3C2H":6.38},
{"v":-37,"N2Hp":-0.03,"CS13":0.43,"CH3CN":1.15,"HC3N":1.45,"HNC":2.28,"HCOp":2.83,"HCN":3.07,"HNCO":3.61,"C2H":4.07,"SiO":4.81,"H13COp":5.48,"H13CN":5.98,"CH3C2H":6.09},
{"v":-36.5,"N2Hp":0.15,"CS13":0.64,"CH3CN":1.06,"HC3N":1.64,"HNC":2.06,"HCOp":2.57,"HCN":2.97,"HNCO":3.83,"C2H":4.27,"SiO":4.68,"H13COp":5.19,"H13CN":5.74,"CH3C2H":6.30},
{"v":-36,"N2Hp":-0.08,"CS13":0.52,"CH3CN":1.12,"HC3N":1.57,"HNC":2.11,"HCOp":2.76,"HCN":3.39,"HNCO":3.52,"C2H":4.12,"SiO":4.74,"H13COp":5.15,"H13CN":5.88,"CH3C2H":6.18},
{"v":-35.5,"N2Hp":0.20,"CS13":0.37,"CH3CN":1.02,"HC3N":1.75,"HNC":2.33,"HCOp":2.62,"HCN":3.11,"HNCO":3.78,"C2H":4.40,"SiO":4.55,"H13COp":5.34,"H13CN":6.03,"CH3C2H":6.45},
{"v":-35,"N2Hp":0.00,"CS13":0.68,"CH3CN":1.11,"HC3N":1.48,"HNC":2.01,"HCOp":2.71,"HCN":3.16,"HNCO":3.71,"C2H":4.20,"SiO":4.90,"H13COp":5.27,"H13CN":5.71,"CH3C2H":6.14},
{"v":-34.5,"N2Hp":-0.11,"CS13":0.47,"CH3CN":1.03,"HC3N":1.66,"HNC":2.22,"HCOp":2.48,"HCN":3.28,"HNCO":3.56,"C2H":4.10,"SiO":4.60,"H13COp":5.43,"H13CN":5.84,"CH3C2H":6.27},
{"v":-34,"N2Hp":0.11,"CS13":0.56,"CH3CN":1.14,"HC3N":1.39,"HNC":2.05,"HCOp":2.79,"HCN":3.02,"HNCO":3.85,"C2H":4.31,"SiO":4.71,"H13COp":5.10,"H13CN":5.77,"CH3C2H":6.21},
{"v":-33.5,"N2Hp":0.06,"CS13":0.41,"CH3CN":1.06,"HC3N":1.68,"HNC":2.26,"HCOp":2.55,"HCN":3.25,"HNCO":3.64,"C2H":4.02,"SiO":4.80,"H13COp":5.36,"H13CN":5.99,"CH3C2H":6.40},
{"v":-33,"N2Hp":-0.16,"CS13":0.73,"CH3CN":1.12,"HC3N":1.72,"HNC":2.14,"HCOp":2.69,"HCN":3.08,"HNCO":3.76,"C2H":4.36,"SiO":4.53,"H13COp":5.17,"H13CN":5.68,"CH3C2H":6.05},
{"v":-32.5,"N2Hp":0.16,"CS13":0.45,"CH3CN":1.01,"HC3N":1.53,"HNC":1.99,"HCOp":2.84,"HCN":3.33,"HNCO":3.49,"C2H":4.17,"SiO":4.76,"H13COp":5.31,"H13CN":5.94,"CH3C2H":6.35},
{"v":-32,"N2Hp":-0.05,"CS13":0.50,"CH3CN":1.09,"HC3N":1.60,"HNC":2.30,"HCOp":2.52,"HCN":3.11,"HNCO":3.80,"C2H":4.24,"SiO":4.64,"H13COp":5.22,"H13CN":5.87,"CH3C2H":6.24},
{"v":-31.5,"N2Hp":0.12,"CS13":0.62,"CH3CN":1.13,"HC3N":1.44,"HNC":2.09,"HCOp":2.65,"HCN":3.31,"HNCO":3.67,"C2H":4.06,"SiO":4.82,"H13COp":5.45,"H13CN":5.72,"CH3C2H":6.15},
{"v":-31,"N2Hp":-0.09,"CS13":0.36,"CH3CN":1.04,"HC3N":1.77,"HNC":2.18,"HCOp":2.58,"HCN":3.04,"HNCO":3.73,"C2H":4.33,"SiO":4.59,"H13COp":5.14,"H13CN":6.01,"CH3C2H":6.42},
{"v":-30.5,"N2Hp":0.03,"CS13":0.59,"CH3CN":1.16,"HC3N":1.51,"HNC":2.03,"HCOp":2.80,"HCN":3.24,"HNCO":3.54,"C2H":4.15,"SiO":4.87,"H13COp":5.38,"H13CN":5.80,"CH3C2H":6.19},
{"v":-30,"N2Hp":0.18,"CS13":0.42,"CH3CN":1.02,"HC3N":1.70,"HNC":2.35,"HCOp":2.49,"HCN":3.09,"HNCO":3.89,"C2H":4.42,"SiO":4.67,"H13COp":5.24,"H13CN":5.92,"CH3C2H":6.31},
{"v":-29.5,"N2Hp":-0.13,"CS13":0.67,"CH3CN":1.10,"HC3N":1.56,"HNC":2.07,"HCOp":2.75,"HCN":3.37,"HNCO":3.59,"C2H":4.13,"SiO":4.56,"H13COp":5.09,"H13CN":5.65,"CH3C2H":6.13},
{"v":-29,"N2Hp":0.08,"CS13":0.45,"CH3CN":1.07,"HC3N":1.65,"HNC":2.12,"HCOp":2.68,"HCN":3.17,"HNCO":3.70,"C2H":4.09,"SiO":4.78,"H13COp":5.41,"H13CN":5.96,"CH3C2H":6.36},
{"v":-28.5,"N2Hp":-0.01,"CS13":0.65,"CH3CN":1.14,"HC3N":1.42,"HNC":2.24,"HCOp":2.53,"HCN":3.07,"HNCO":3.79,"C2H":4.28,"SiO":4.73,"H13COp":5.28,"H13CN":5.83,"CH3C2H":6.08},
{"v":-28,"N2Hp":0.14,"CS13":0.38,"CH3CN":1.04,"HC3N":1.73,"HNC":1.98,"HCOp":2.82,"HCN":3.28,"HNCO":3.52,"C2H":4.21,"SiO":4.51,"H13COp":5.35,"H13CN":5.89,"CH3C2H":6.28},
{"v":-27.5,"N2Hp":-0.18,"CS13":0.58,"CH3CN":1.11,"HC3N":1.49,"HNC":2.21,"HCOp":2.61,"HCN":2.99,"HNCO":3.75,"C2H":4.37,"SiO":4.83,"H13COp":5.13,"H13CN":5.70,"CH3C2H":6.39},
{"v":-27,"N2Hp":0.10,"CS13":0.43,"CH3CN":1.00,"HC3N":1.63,"HNC":2.04,"HCOp":2.73,"HCN":3.33,"HNCO":3.63,"C2H":4.04,"SiO":4.62,"H13COp":5.44,"H13CN":6.05,"CH3C2H":6.17},
{"v":-26.5,"N2Hp":0.05,"CS13":0.71,"CH3CN":1.12,"HC3N":1.78,"HNC":2.29,"HCOp":2.46,"HCN":3.14,"HNCO":3.81,"C2H":4.30,"SiO":4.79,"H13COp":5.18,"H13CN":5.75,"CH3C2H":6.22},
{"v":-26,"N2Hp":-0.07,"CS13":0.51,"CH3CN":1.13,"HC3N":1.46,"HNC":2.07,"HCOp":2.77,"HCN":3.21,"HNCO":3.58,"C2H":4.11,"SiO":4.58,"H13COp":5.25,"H13CN":5.86,"CH3C2H":6.44},
{"v":-25.5,"N2Hp":0.19,"CS13":0.41,"CH3CN":1.06,"HC3N":1.59,"HNC":2.27,"HCOp":2.64,"HCN":3.03,"HNCO":3.86,"C2H":4.25,"SiO":4.70,"H13COp":5.40,"H13CN":5.95,"CH3C2H":6.12},
{"v":-25,"N2Hp":-0.04,"CS13":0.62,"CH3CN":1.08,"HC3N":1.52,"HNC":2.00,"HCOp":2.70,"HCN":3.30,"HNCO":3.66,"C2H":4.16,"SiO":4.85,"H13COp":5.11,"H13CN":5.68,"CH3C2H":6.33},
{"v":-24.5,"N2Hp":0.13,"CS13":0.33,"CH3CN":1.02,"HC3N":1.74,"HNC":2.20,"HCOp":2.51,"HCN":3.12,"HNCO":3.55,"C2H":4.39,"SiO":4.54,"H13COp":5.32,"H13CN":5.91,"CH3C2H":6.16},
{"v":-24,"N2Hp":-0.12,"CS13":0.67,"CH3CN":1.15,"HC3N":1.43,"HNC":2.05,"HCOp":2.86,"HCN":3.39,"HNCO":3.77,"C2H":4.08,"SiO":4.75,"H13COp":5.20,"H13CN":5.79,"CH3C2H":6.37}
],
"Llab": [
{"name":"CH₃C₂H","v":-60.9,"T":82.9},
{"name":"H¹³CN","v":-60.9,"T":76.1},
{"name":"H¹³CO⁺","v":-60.9,"T":69.3},
{"name":"SiO","v":-60.9,"T":62.6},
{"name":"C₂H","v":-60.9,"T":55.9},
{"name":"HNCO","v":-60.9,"T":49.2},
{"name":"HCN","v":-60.9,"T":42.4},
{"name":"HCO⁺","v":-60.9,"T":35.8},
{"name":"HNC","v":-60.9,"T":29.0},
{"name":"HC₃N","v":-60.9,"T":22.4},
{"name":"CH₃CN","v":-60.9,"T":15.5},
{"name":"¹³CS","v":-60.9,"T":8.9},
{"name":"N₂H⁺","v":-60.9,"T":2.5}
],
"Rlab": [
{"name":"CH₃C₂H","v":-61.9,"T":6.47},
{"name":"H¹³CN","v":-61.9,"T":5.93},
{"name":"H¹³CO⁺","v":-61.9,"T":5.38},
{"name":"SiO","v":-61.9,"T":4.82},
{"name":"C₂H","v":-61.9,"T":4.34},
{"name":"HNCO","v":-61.9,"T":3.86},
{"name":"HCN","v":-61.9,"T":3.34},
{"name":"HCO⁺","v":-61.9,"T":2.82},
{"name":"HNC","v":-61.9,"T":2.29},
{"name":"HC₃N","v":-61.9,"T":1.77},
{"name":"CH₃CN","v":-61.9,"T":1.24},
{"name":"¹³CS","v":-61.9,"T":0.73},
{"name":"N₂H⁺","v":-61.9,"T":0.22}
],
"Ltitle": [{"t":"IRDC309.37-1","v":-40.25,"T":87.8}],
"Rtitle": [{"t":"IRDC309.37-2","v":-40.98,"T":6.87}]
},
"hconcat": [
{
 "width": 208, "height": 799,
 "resolve": {"axis": {"x": "independent", "y": "independent"}},
 "layer": [
  {
   "data": {"name": "L"},
   "transform": [{"fold": ["N2Hp","CS13","CH3CN","HC3N","HNC","HCOp","HCN"], "as": ["species","T"]}],
   "mark": {"type": "line", "color": "#222", "strokeWidth": 0.9, "clip": true},
   "encoding": {
    "x": {"field": "v", "type": "quantitative", "scale": {"domain": [-62.95,-23.2], "nice": false, "zero": false},
          "axis": {"orient": "bottom", "values": [-60,-50,-40,-30], "tickSize": -15, "labelPadding": 25, "title": "V [km/s]", "titlePadding": 2.5}},
    "y": {"field": "T", "type": "quantitative", "scale": {"domain": [-0.4,94.0], "nice": false, "zero": false},
          "axis": {"orient": "left", "values": [0,20,40,60,80], "tickSize": -4, "labelPadding": 10.3, "title": "Main beam brightness temperature Tₘᵦ [K]", "titlePadding": 8.7}},
    "detail": {"field": "species"}
   }
  },
  {
   "data": {"name": "L"},
   "transform": [{"fold": ["HNCO","C2H","SiO","H13COp","H13CN","CH3C2H"], "as": ["species","T"]}],
   "mark": {"type": "line", "color": "#222", "strokeWidth": 0.9, "clip": true},
   "encoding": {
    "x": {"field": "v", "type": "quantitative", "scale": {"domain": [-62.95,-23.2], "nice": false, "zero": false},
          "axis": {"orient": "bottom", "values": [-62,-61,-60,-59,-58,-57,-56,-55,-54,-53,-52,-51,-50,-49,-48,-47,-46,-45,-44,-43,-42,-41,-40,-39,-38,-37,-36,-35,-34,-33,-32,-31,-30,-29,-28,-27,-26,-25,-24], "tickSize": -7, "labels": false, "title": null}},
    "y": {"field": "T", "type": "quantitative", "scale": {"domain": [-0.4,94.0], "nice": false, "zero": false},
          "axis": {"orient": "left", "values": [0,5,10,15,20,25,30,35,40,45,50,55,60,65,70,75,80,85,90], "tickSize": -2, "labels": false, "title": null}},
    "detail": {"field": "species"}
   }
  },
  {
   "data": {"name": "Llab"},
   "mark": {"type": "text", "align": "left", "baseline": "alphabetic", "font": "DejaVu Sans", "fontSize": 12, "color": "#555"},
   "encoding": {
    "x": {"field": "v", "type": "quantitative", "scale": {"domain": [-62.95,-23.2], "nice": false, "zero": false},
          "axis": {"orient": "top", "values": [-60,-50,-40,-30], "tickSize": -15, "labels": false, "title": null}},
    "y": {"field": "T", "type": "quantitative", "scale": {"domain": [-0.4,94.0], "nice": false, "zero": false},
          "axis": {"orient": "right", "values": [0,20,40,60,80], "tickSize": -4, "labels": false, "title": null}},
    "text": {"field": "name"}
   }
  },
  {
   "data": {"name": "Ltitle"},
   "mark": {"type": "text", "align": "center", "baseline": "middle", "font": "Liberation Sans", "fontSize": 18, "color": "#555"},
   "encoding": {
    "x": {"field": "v", "type": "quantitative", "scale": {"domain": [-62.95,-23.2], "nice": false, "zero": false},
          "axis": {"orient": "top", "values": [-62,-61,-60,-59,-58,-57,-56,-55,-54,-53,-52,-51,-50,-49,-48,-47,-46,-45,-44,-43,-42,-41,-40,-39,-38,-37,-36,-35,-34,-33,-32,-31,-30,-29,-28,-27,-26,-25,-24], "tickSize": -7, "labels": false, "title": null}},
    "y": {"field": "T", "type": "quantitative", "scale": {"domain": [-0.4,94.0], "nice": false, "zero": false},
          "axis": {"orient": "right", "values": [0,5,10,15,20,25,30,35,40,45,50,55,60,65,70,75,80,85,90], "tickSize": -2, "labels": false, "title": null}},
    "text": {"field": "t"}
   }
  }
 ]
},
{
 "width": 207.5, "height": 799,
 "resolve": {"axis": {"x": "independent", "y": "independent"}},
 "layer": [
  {
   "data": {"name": "R"},
   "transform": [{"fold": ["N2Hp","CS13","CH3CN","HC3N","HNC","HCOp","HCN"], "as": ["species","T"]}],
   "mark": {"type": "line", "color": "#222", "strokeWidth": 0.9, "clip": true},
   "encoding": {
    "x": {"field": "v", "type": "quantitative", "scale": {"domain": [-63.83,-24.08], "nice": false, "zero": false},
          "axis": {"orient": "bottom", "values": [-60,-50,-40,-30], "tickSize": -15, "labelPadding": 25, "title": "V [km/s]", "titlePadding": 2.5}},
    "y": {"field": "T", "type": "quantitative", "scale": {"domain": [-0.48,7.35], "nice": false, "zero": false},
          "axis": {"orient": "left", "values": [0,2,4,6], "tickSize": -4, "labelPadding": 11, "title": "Main beam brightness temperature Tₘᵦ [K]", "titlePadding": 6.5}},
    "detail": {"field": "species"}
   }
  },
  {
   "data": {"name": "R"},
   "transform": [{"fold": ["HNCO","C2H","SiO","H13COp","H13CN","CH3C2H"], "as": ["species","T"]}],
   "mark": {"type": "line", "color": "#222", "strokeWidth": 0.9, "clip": true},
   "encoding": {
    "x": {"field": "v", "type": "quantitative", "scale": {"domain": [-63.83,-24.08], "nice": false, "zero": false},
          "axis": {"orient": "bottom", "values": [-63,-62,-61,-60,-59,-58,-57,-56,-55,-54,-53,-52,-51,-50,-49,-48,-47,-46,-45,-44,-43,-42,-41,-40,-39,-38,-37,-36,-35,-34,-33,-32,-31,-30,-29,-28,-27,-26,-25], "tickSize": -7, "labels": false, "title": null}},
    "y": {"field": "T", "type": "quantitative", "scale": {"domain": [-0.48,7.35], "nice": false, "zero": false},
          "axis": {"orient": "left", "values": [0,0.5,1,1.5,2,2.5,3,3.5,4,4.5,5,5.5,6,6.5,7], "tickSize": -2, "labels": false, "title": null}},
    "detail": {"field": "species"}
   }
  },
  {
   "data": {"name": "Rlab"},
   "mark": {"type": "text", "align": "left", "baseline": "alphabetic", "font": "DejaVu Sans", "fontSize": 12, "color": "#555"},
   "encoding": {
    "x": {"field": "v", "type": "quantitative", "scale": {"domain": [-63.83,-24.08], "nice": false, "zero": false},
          "axis": {"orient": "top", "values": [-60,-50,-40,-30], "tickSize": -15, "labels": false, "title": null}},
    "y": {"field": "T", "type": "quantitative", "scale": {"domain": [-0.48,7.35], "nice": false, "zero": false},
          "axis": {"orient": "right", "values": [0,2,4,6], "tickSize": -4, "labels": false, "title": null}},
    "text": {"field": "name"}
   }
  },
  {
   "data": {"name": "Rtitle"},
   "mark": {"type": "text", "align": "center", "baseline": "middle", "font": "Liberation Sans", "fontSize": 18, "color": "#555"},
   "encoding": {
    "x": {"field": "v", "type": "quantitative", "scale": {"domain": [-63.83,-24.08], "nice": false, "zero": false},
          "axis": {"orient": "top", "values": [-63,-62,-61,-60,-59,-58,-57,-56,-55,-54,-53,-52,-51,-50,-49,-48,-47,-46,-45,-44,-43,-42,-41,-40,-39,-38,-37,-36,-35,-34,-33,-32,-31,-30,-29,-28,-27,-26,-25], "tickSize": -7, "labels": false, "title": null}},
    "y": {"field": "T", "type": "quantitative", "scale": {"domain": [-0.48,7.35], "nice": false, "zero": false},
          "axis": {"orient": "right", "values": [0,0.5,1,1.5,2,2.5,3,3.5,4,4.5,5,5.5,6,6.5,7], "tickSize": -2, "labels": false, "title": null}},
    "text": {"field": "t"}
   }
  }
 ]
}
]
}
